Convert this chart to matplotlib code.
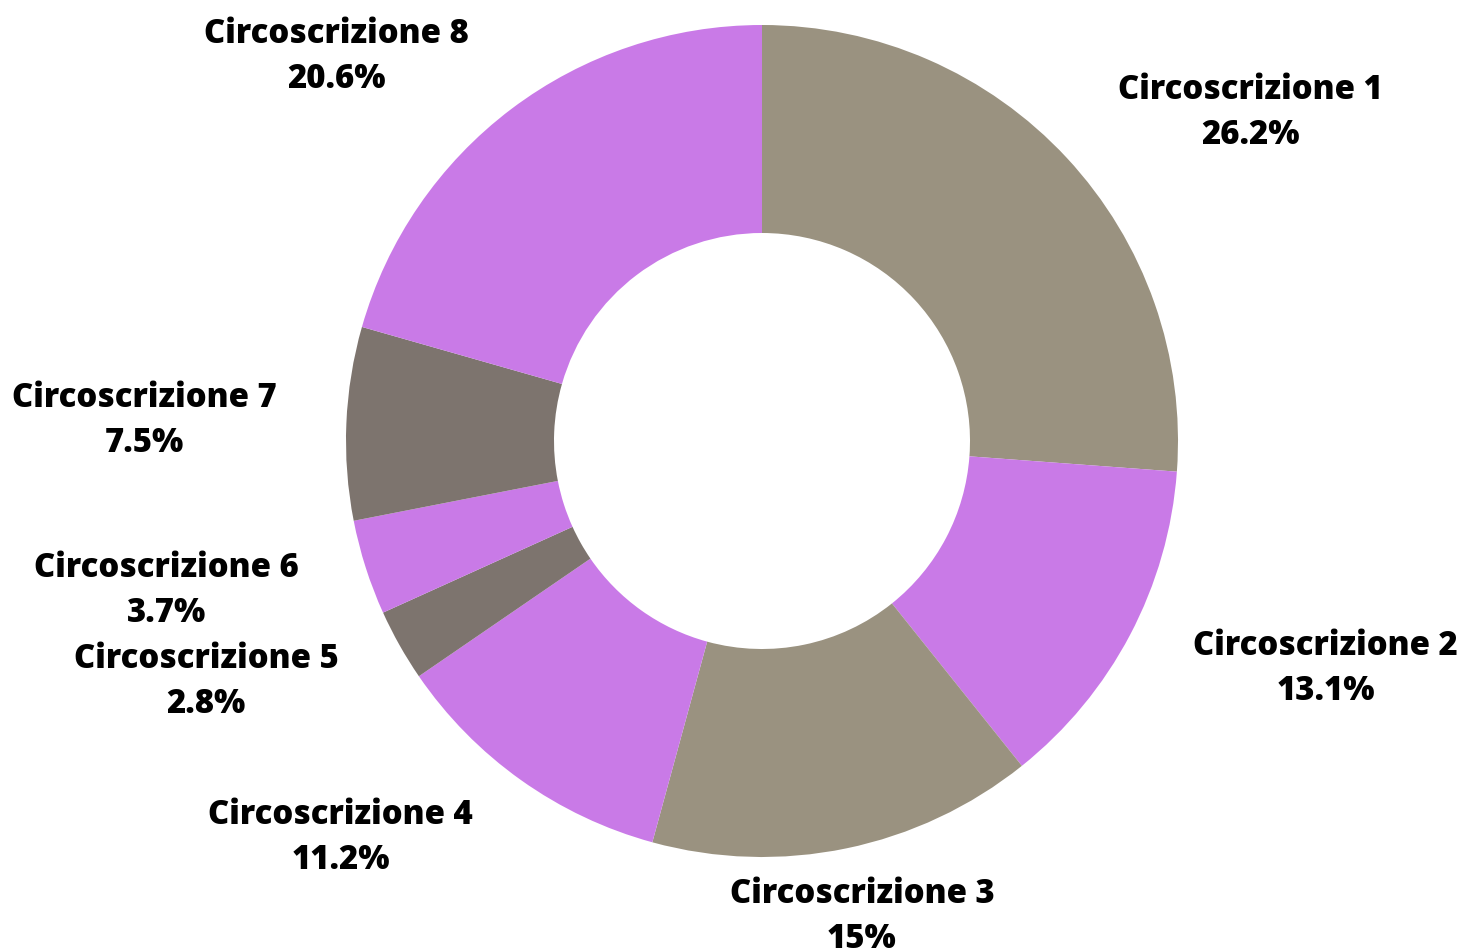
import matplotlib

matplotlib.use("Agg")

import matplotlib.pyplot as plt
import numpy as np

districts = [
    "Circoscrizione 1", "Circoscrizione 2", "Circoscrizione 3", "Circoscrizione 4",
    "Circoscrizione 5", "Circoscrizione 6", "Circoscrizione 7", "Circoscrizione 8",
]
shares = [26.2, 13.1, 15.0, 11.2, 2.8, 3.7, 7.5, 20.6]
share_labels = ["26.2%", "13.1%", "15%", "11.2%", "2.8%", "3.7%", "7.5%", "20.6%"]

TAUPE = "#9a9280"
PURPLE = "#c97ae7"
GREY = "#7d746e"
colors = [TAUPE, PURPLE, TAUPE, PURPLE, GREY, PURPLE, GREY, PURPLE]

# label layout: angle (deg) and distance from centre, in pie radii
label_angle = [34.0, -21.9, -78.1, -136.8, -156.7, -166.0, 178.0, 137.8]
label_dist = [1.415, 1.46, 1.165, 1.39, 1.455, 1.475, 1.485, 1.38]

W, H = 1461, 953
cx, cy, r = 762, H - 442, 416

fig = plt.figure(figsize=(W / 100, H / 100), dpi=100)
ax = fig.add_axes([0, 0, 1, 1])

ax.pie(
    shares,
    colors=colors,
    startangle=90,
    counterclock=False,
    center=(cx, cy),
    radius=r,
    wedgeprops=dict(width=r * 0.5, linewidth=0),
    frame=True,
)
ax.set_xlim(0, W)
ax.set_ylim(0, H)
ax.set_aspect("equal")
ax.axis("off")

for name, lab, ang, d in zip(districts, share_labels, label_angle, label_dist):
    a = np.deg2rad(ang)
    ax.text(
        cx + d * r * np.cos(a),
        cy + d * r * np.sin(a),
        f"{name}\n{lab}",
        ha="center",
        va="center",
        fontsize=23.7,
        fontweight="heavy",
        family=["Open Sans", "DejaVu Sans"],
        linespacing=1.42,
        color="black",
    )

fig.savefig("out.png", dpi=100)
plt.close(fig)
